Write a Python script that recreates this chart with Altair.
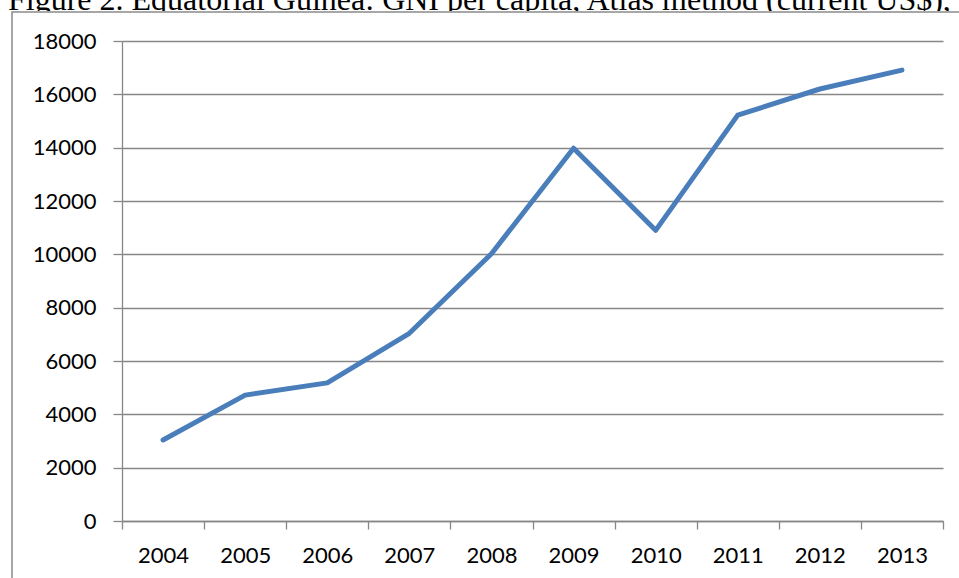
import altair as alt
import pandas as pd

years = ["2004", "2005", "2006", "2007", "2008", "2009", "2010", "2011", "2012", "2013"]
gni = [3040, 4720, 5180, 7040, 10020, 13980, 10900, 15220, 16200, 16910]
y_ticks = [0, 2000, 4000, 6000, 8000, 10000, 12000, 14000, 16000, 18000]
title_text = "Figure 2. Equatorial Guinea: GNI per capita, Atlas method (current US$),"

df = pd.DataFrame({"year": years, "gni": gni})
one = pd.DataFrame({"t": [title_text]})

AX = "#878787"
LABEL_FONT = "Lato"

x_enc = alt.X(
    "year:O",
    sort=years,
    title=None,
    scale=alt.Scale(paddingInner=0, paddingOuter=0),
    axis=alt.Axis(
        tickBand="extent",
        labelAngle=0,
        labelFont=LABEL_FONT,
        labelFontSize=22,
        labelColor="black",
        labelPadding=16,
        tickSize=8,
        tickColor=AX,
        tickWidth=1.3,
        domainColor=AX,
        domainWidth=1.3,
        grid=False,
    ),
)
y_enc = alt.Y(
    "gni:Q",
    title=None,
    scale=alt.Scale(domain=[0, 18000], nice=False),
    axis=alt.Axis(
        values=y_ticks,
        format="d",
        labelFont=LABEL_FONT,
        labelFontSize=22,
        labelColor="black",
        labelPadding=17,
        tickSize=9,
        tickColor=AX,
        tickWidth=1.3,
        domainColor=AX,
        domainWidth=1.3,
        grid=True,
        gridColor=AX,
        gridWidth=1.3,
    ),
)

title_layer = alt.Chart(one).mark_text(
    font="Liberation Serif",
    fontSize=32,
    align="left",
    baseline="alphabetic",
    color="black",
).encode(text="t:N", x=alt.value(-114), y=alt.value(-31))

cover = alt.Chart(one).mark_rect(fill="white").encode(
    x=alt.value(-122), x2=alt.value(840), y=alt.value(-30), y2=alt.value(-16)
)

border = alt.Chart(one).mark_rect(fill=None, stroke="#8a8a8a", strokeWidth=1.5).encode(
    x=alt.value(-110), x2=alt.value(850), y=alt.value(-29), y2=alt.value(550)
)

line = alt.Chart(df).mark_line(
    color="#4a7ebb", strokeWidth=5, strokeCap="round", strokeJoin="round"
).encode(x=x_enc, y=y_enc)

chart = (
    alt.layer(title_layer, cover, border, line)
    .properties(
        width=821,
        height=480,
        autosize=alt.AutoSizeParams(type="none"),
        padding={"left": 122, "top": 41, "right": 16, "bottom": 57},
        background="white",
    )
    .configure_view(stroke=None)
)

chart.save("out.html", embed_options={"renderer": "svg", "actions": False})
